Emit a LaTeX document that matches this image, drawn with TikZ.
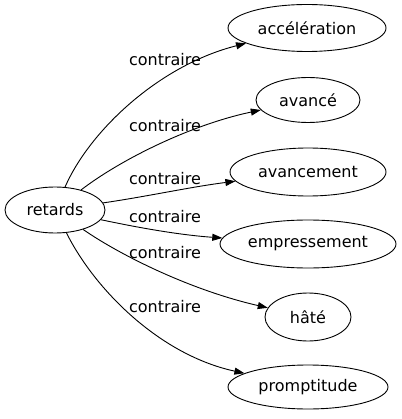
\documentclass[tikz,border=0pt]{standalone}
\usepackage{fontspec}
\setmainfont{DejaVu Sans}
\usetikzlibrary{shapes.geometric,arrows.meta}
\begin{document}
\begin{tikzpicture}[x=1pt,y=-1pt,
  every node/.style={font=\fontsize{16}{18}\selectfont},
  word/.style={draw,ellipse,line width=0.9pt,inner sep=0pt},
  lbl/.style={inner sep=0pt},
  edge/.style={line width=0.9pt,-{Triangle[length=10pt,width=7pt]}}]
\useasboundingbox (0,0) rectangle (401,419);
\node[word,minimum width=100pt,minimum height=46pt] (r) at (55,210) {retards};
\node[word,minimum width=158pt,minimum height=47pt] (a1) at (307,28) {accélération};
\node[word,minimum width=104pt,minimum height=45pt] (a2) at (308,100) {avancé};
\node[word,minimum width=156pt,minimum height=48pt] (a3) at (308,172) {avancement};
\node[word,minimum width=176pt,minimum height=48pt] (a4) at (308,244) {empressement};
\node[word,minimum width=86pt,minimum height=48pt] (a5) at (308,317) {hâté};
\node[word,minimum width=160pt,minimum height=44pt] (a6) at (308,387) {promptitude};
\node[lbl] (l1) at (165,60) {contraire};
\node[lbl] (l2) at (165,126) {contraire};
\node[lbl] (l3) at (165,179) {contraire};
\node[lbl] (l4) at (165,217) {contraire};
\node[lbl] (l5) at (165,253) {contraire};
\node[lbl] (l6) at (165,307) {contraire};
\draw[edge] (r) .. controls (90,130) and (160,65) .. (a1);
\draw[edge] (r) .. controls (120,160) and (190,125) .. (a2);
\draw[edge] (r) .. controls (150,196) and (190,187) .. (a3);
\draw[edge] (r) .. controls (140,228) and (180,235) .. (a4);
\draw[edge] (r) .. controls (120,255) and (190,290) .. (a5);
\draw[edge] (r) .. controls (95,290) and (160,355) .. (a6);
\end{tikzpicture}
\end{document}
